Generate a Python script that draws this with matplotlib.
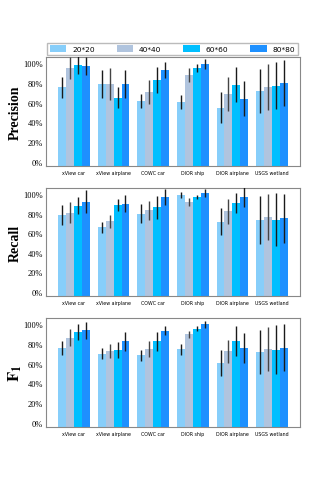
import numpy as np
import matplotlib
matplotlib.use("Agg")
import matplotlib.pyplot as plt

plt.rcParams['mathtext.fontset'] = 'stix'

categories = ["xView car", "xView airplane", "COWC car", "DIOR ship", "DIOR airplane", "USGS wetland"]
sizes = ["20*20", "40*40", "60*60", "80*80"]
colors = ["#87CEFA", "#B0C4DE", "#00BFFF", "#1E90FF"]

precision = {
    "20*20": [0.756, 0.79, 0.617, 0.607, 0.549, 0.719],
    "40*40": [0.953, 0.79, 0.708, 0.880, 0.685, 0.759],
    "60*60": [0.986, 0.65, 0.830, 0.949, 0.783, 0.773],
    "80*80": [0.973, 0.79, 0.932, 0.993, 0.640, 0.797],
}
precision_err = {
    "20*20": [0.105, 0.14, 0.07, 0.068, 0.156, 0.22],
    "40*40": [0.11, 0.16, 0.12, 0.066, 0.17, 0.23],
    "60*60": [0.10, 0.107, 0.13, 0.04, 0.18, 0.235],
    "80*80": [0.09, 0.14, 0.08, 0.05, 0.175, 0.23],
}
recall = {
    "20*20": [0.788, 0.66, 0.800, 0.990, 0.717, 0.740],
    "40*40": [0.811, 0.72, 0.835, 0.919, 0.822, 0.768],
    "60*60": [0.882, 0.889, 0.865, 0.970, 0.909, 0.737],
    "80*80": [0.923, 0.902, 0.970, 1.010, 0.970, 0.754],
}
recall_err = {
    "20*20": [0.10, 0.056, 0.10, 0.027, 0.137, 0.245],
    "40*40": [0.11, 0.066, 0.095, 0.04, 0.13, 0.235],
    "60*60": [0.086, 0.057, 0.12, 0.025, 0.10, 0.27],
    "80*80": [0.12, 0.087, 0.084, 0.04, 0.10, 0.25],
}
f1 = {
    "20*20": [0.758, 0.700, 0.684, 0.745, 0.605, 0.718],
    "40*40": [0.864, 0.728, 0.748, 0.898, 0.724, 0.748],
    "60*60": [0.922, 0.738, 0.827, 0.952, 0.827, 0.741],
    "80*80": [0.939, 0.827, 0.935, 0.997, 0.758, 0.762],
}
f1_err = {
    "20*20": [0.075, 0.054, 0.054, 0.054, 0.13, 0.226],
    "40*40": [0.085, 0.07, 0.077, 0.034, 0.116, 0.223],
    "60*60": [0.078, 0.08, 0.094, 0.024, 0.153, 0.25],
    "80*80": [0.085, 0.094, 0.05, 0.033, 0.153, 0.238],
}
ytick_vals = [0, 0.2, 0.4, 0.6, 0.8, 1.0]
ytick_labels = ["0%", "20%", "40%", "60%", "80%", "100%"]

fig = plt.figure(figsize=(3.32, 4.89), dpi=100)
L, R = 46 / 332, 300 / 332
panels = [
    ("Precision", precision, precision_err, 58, 167),
    ("Recall", recall, recall_err, 189, 297),
    (r"$\mathbf{F_1}$", f1, f1_err, 319, 428),
]
x = np.arange(len(categories))
width = 0.2
base = -0.04
for i, (name, data, err, top, bot) in enumerate(panels):
    ax = fig.add_axes([L, 1 - bot / 489, R - L, (bot - top) / 489])
    for j, s in enumerate(sizes):
        vals = np.array(data[s])
        ax.bar(x + (j - 1.5) * width, vals - base, width, bottom=base,
               color=colors[j], label=s, zorder=2)
        ax.errorbar(x + (j - 1.5) * width, vals, yerr=err[s], fmt='none',
                    ecolor='#1a1a1a' if j != 1 else '#444444', elinewidth=1.0,
                    capsize=0, zorder=3)
    ax.set_xlim(-0.706, len(categories) - 1 + 0.706)
    ax.set_ylim(-0.041, 1.062)
    ax.set_xticks(x)
    ax.set_xticklabels(categories, fontsize=3.4)
    ax.set_yticks(ytick_vals)
    ax.set_yticklabels(ytick_labels, fontsize=6, family="Liberation Serif")
    ax.tick_params(axis='x', length=0, pad=3)
    ax.tick_params(axis='y', length=0, pad=2)
    for sp in ax.spines.values():
        sp.set_color('#888888')
        sp.set_linewidth(0.8)
    ax.set_ylabel(name, fontsize=10 if i < 2 else 12, fontweight='bold',
                  family="Liberation Serif")
    ax.yaxis.set_label_coords(-0.095 if i < 2 else -0.085, 0.5)
    if i == 0:
        ax.legend(loc='lower left', bbox_to_anchor=(0.004, 1.02, 0.988, 0.11),
                  mode='expand', ncol=4, fontsize=5.4, frameon=True,
                  edgecolor='#aaaaaa', fancybox=False, borderaxespad=0,
                  handlelength=2.2, handleheight=0.9, columnspacing=1.0,
                  borderpad=0.35)

fig.savefig("out.png", dpi=100)
